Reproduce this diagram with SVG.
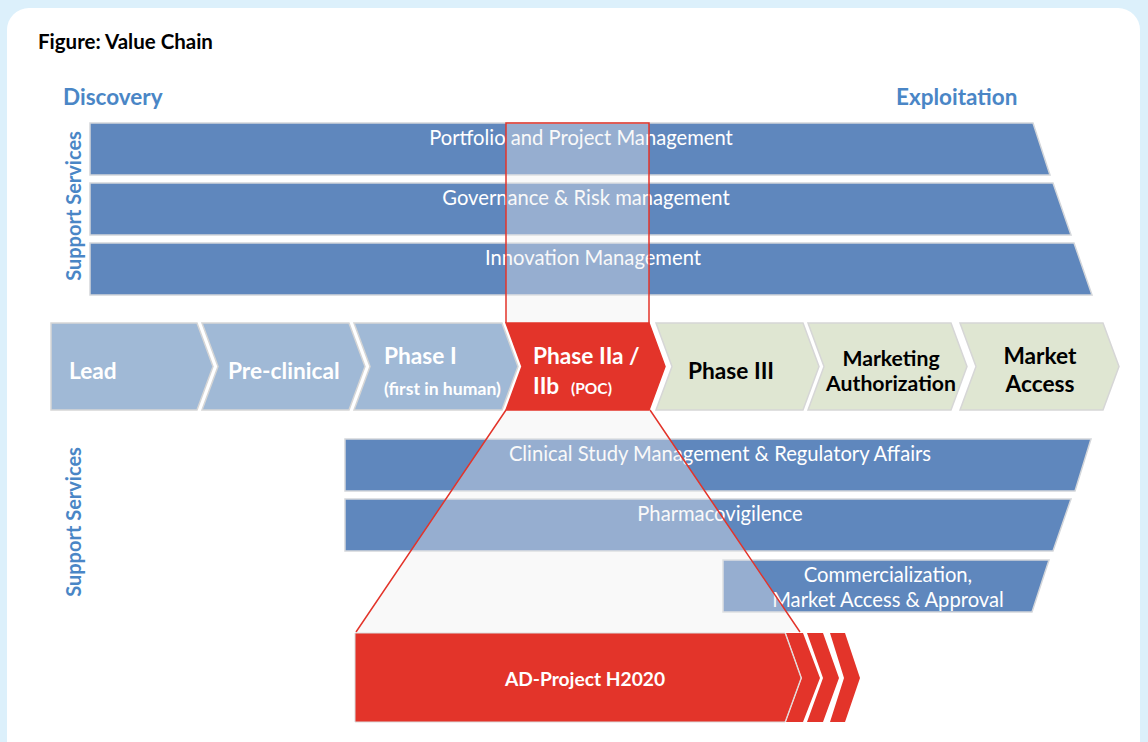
<svg xmlns="http://www.w3.org/2000/svg" width="1148" height="742" viewBox="0 0 1148 742">
<style>
.bar{fill:#5f87bd;stroke:#d3d6da;stroke-width:1.5}
.bt{font-family:Lato,"Liberation Sans",sans-serif;font-size:20.2px;fill:#ffffff;text-anchor:middle}
.lbl{font-family:Lato,"Liberation Sans",sans-serif;font-weight:bold;fill:#4a86c6}
.chB{fill:#a0b9d6;stroke:#d6d6d6;stroke-width:1.5}
.chG{fill:#dfe6d2;stroke:#d6d6d6;stroke-width:1.5}
.chR{fill:#e3342a;stroke:#e3342a;stroke-width:1.5}
.ct{font-family:Lato,"Liberation Sans",sans-serif;font-weight:bold;font-size:22.7px}
.ct.sm{font-size:17.6px}
.ct.poc{font-size:15.5px}
.ct.mk{font-size:21.2px}
.ct.ad{font-size:19.2px}
.ov{fill:#f0f0f0;fill-opacity:0.38}
.red{fill:#e3342a}
</style>
<rect x="0" y="0" width="1148" height="742" fill="#dcf0fb"/>
<rect x="7" y="8" width="1133" height="770" rx="22" fill="#ffffff"/>
<text x="38" y="49" font-family="Lato,'Liberation Sans',sans-serif" font-weight="bold" font-size="20.5" fill="#000000">Figure: Value Chain</text>
<text class="lbl" x="63" y="105" font-size="22.5">Discovery</text>
<text class="lbl" x="896" y="105" font-size="22.5">Exploitation</text>
<text class="lbl" font-size="20" text-anchor="middle" transform="translate(81,206) rotate(-90)">Support Services</text>
<text class="lbl" font-size="20" text-anchor="middle" transform="translate(81,522) rotate(-90)">Support Services</text>

<g id="bar-portfolio"><path class="bar" d="M90,123 H1033 L1050,175 H90 Z"/><text class="bt" x="581" y="145">Portfolio and Project Management</text></g>
<g id="bar-governance"><path class="bar" d="M90,183 H1053 L1071,235 H90 Z"/><text class="bt" x="586" y="205">Governance &amp; Risk management</text></g>
<g id="bar-innovation"><path class="bar" d="M90,243 H1074 L1092,295 H90 Z"/><text class="bt" x="593" y="265">Innovation Management</text></g>

<g id="bar-clinical"><path class="bar" d="M345,439 H1091 L1075,491 H345 Z"/><text class="bt" x="720" y="461">Clinical Study Management &amp; Regulatory Affairs</text></g>
<g id="bar-pharma"><path class="bar" d="M345,499 H1071 L1053,551 H345 Z"/><text class="bt" x="720" y="521">Pharmacovigilence</text></g>
<g id="bar-commercial"><path class="bar" d="M723,560 H1049 L1032,612 H723 Z"/><text class="bt" x="888" y="582">Commercialization,</text><text class="bt" x="888" y="607">Market Access &amp; Approval</text></g>

<g id="ch-lead"><path class="chB" d="M51,323 H197 L213,366.5 L197,410 H51 Z"/><text class="ct" x="69" y="379" fill="#ffffff">Lead</text></g>
<g id="ch-preclinical"><path class="chB" d="M202,323 H349 L365,366.5 L349,410 H202 L218,366.5 Z"/><text class="ct" x="228" y="379" fill="#ffffff">Pre-clinical</text></g>
<g id="ch-phase1"><path class="chB" d="M354,323 H502 L518,366.5 L502,410 H354 L370,366.5 Z"/><text class="ct" x="384" y="364" fill="#ffffff">Phase I</text><text class="ct sm" x="384" y="395" fill="#ffffff">(first in human)</text></g>
<g id="ch-phase3"><path class="chG" d="M656,323 H803 L819,366.5 L803,410 H656 L672,366.5 Z"/><text class="ct" x="688" y="379" fill="#000000">Phase III</text></g>
<g id="ch-marketing"><path class="chG" d="M808,323 H951 L967,366.5 L951,410 H808 L824,366.5 Z"/><text class="ct mk" x="891" y="366" fill="#000000" text-anchor="middle">Marketing</text><text class="ct mk" x="891" y="391" fill="#000000" text-anchor="middle">Authorization</text></g>
<g id="ch-access"><path class="chG" d="M960,323 H1103 L1119,366.5 L1103,410 H960 L976,366.5 Z"/><text class="ct" x="1040" y="364" fill="#000000" text-anchor="middle">Market</text><text class="ct" x="1040" y="392" fill="#000000" text-anchor="middle">Access</text></g>

<g id="connectors">
<rect class="ov" x="506" y="123" width="143" height="200"/>
<path class="ov" d="M506,410 L650,410 L800,632 L356,632 Z"/>
<path d="M506,323 V123 H649 V323" fill="none" stroke="#e3342a" stroke-width="1.5"/>
<path d="M506,410 L356,632 M650,410 L800,632" fill="none" stroke="#e3342a" stroke-width="1.5"/>
</g>

<g id="ch-phase2"><path class="chR" d="M506,323 H649 L665,366.5 L649,410 H506 L522,366.5 Z"/><text class="ct" x="533" y="364" fill="#ffffff">Phase IIa /</text><text class="ct" x="533" y="394" fill="#ffffff">IIb</text><text class="ct poc" x="571" y="394" fill="#ffffff">(POC)</text></g>

<g id="ad-project">
<path class="red" d="M355,633 H785 L801,678 L785,722 H355 Z" stroke="#d9d9d9" stroke-width="1"/>
<path class="red" d="M786,633 H803 L820,678 L803,722 H786 L802,678 Z"/>
<path class="red" d="M807,633 H823 L839,678 L823,722 H807 L823,678 Z"/>
<path class="red" d="M830,633 H845 L860,678 L845,722 H830 L844,678 Z"/>
<text class="ct ad" x="585" y="686" fill="#ffffff" text-anchor="middle">AD-Project H2020</text>
</g>
</svg>
